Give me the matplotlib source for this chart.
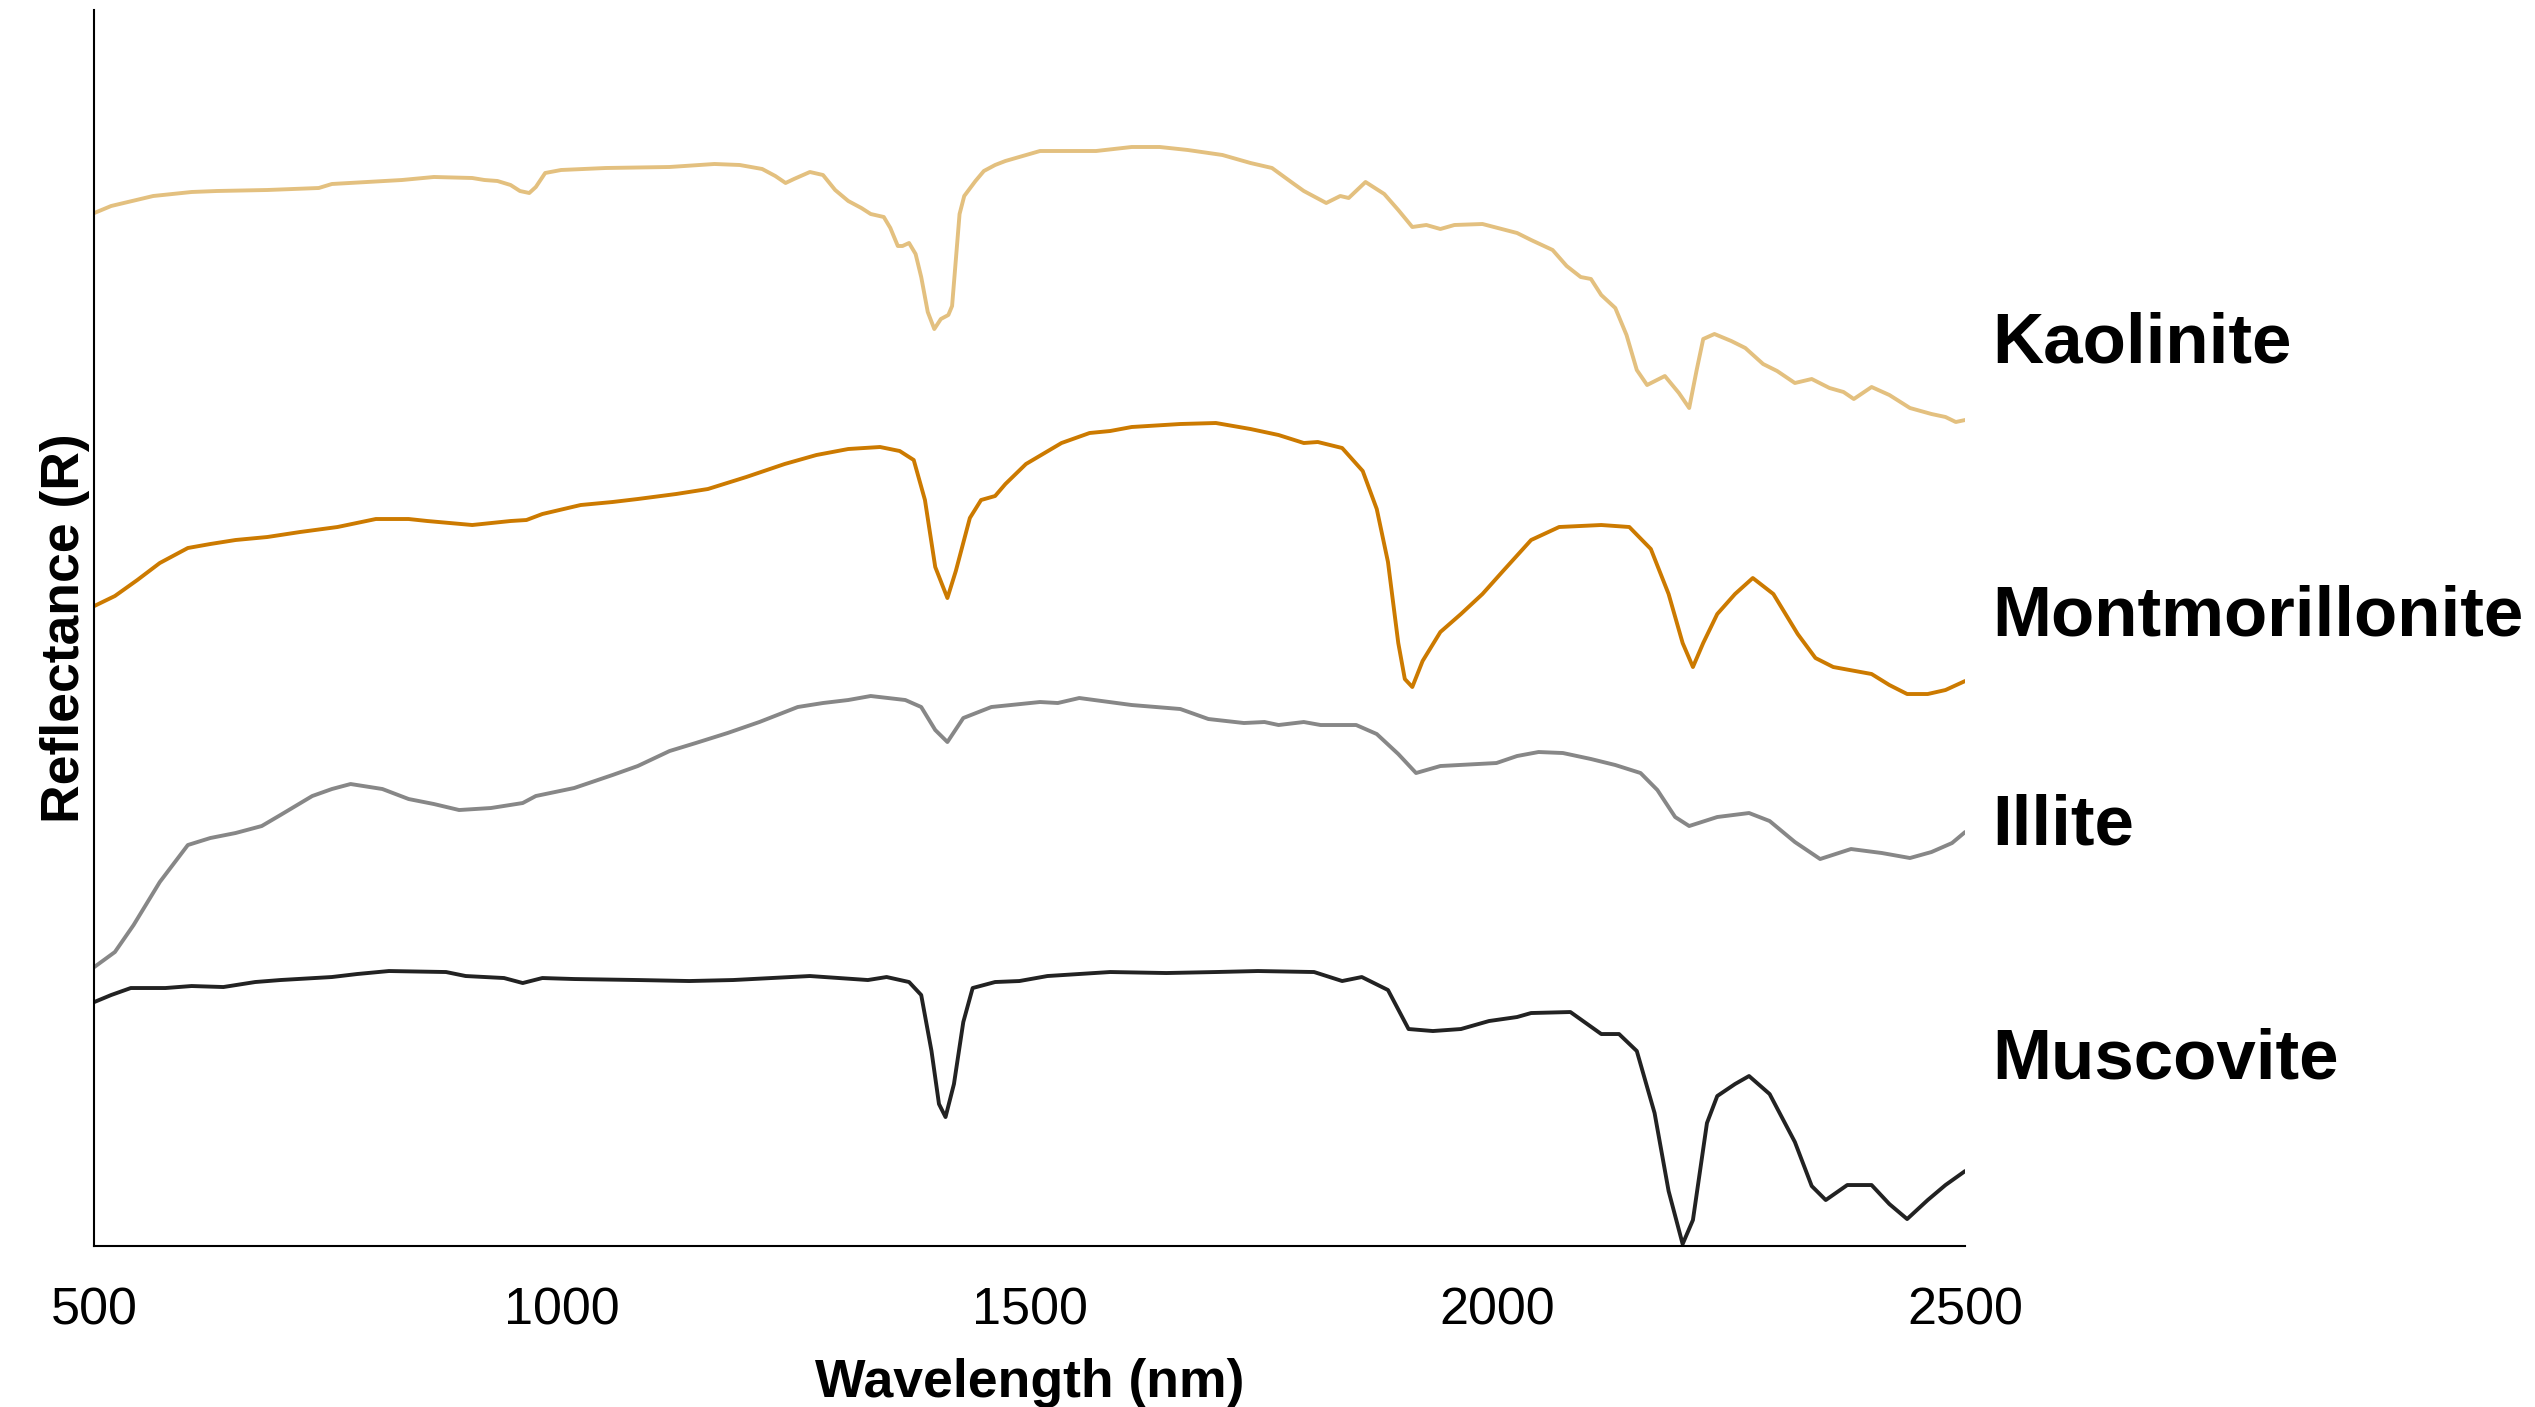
import matplotlib
matplotlib.use("Agg")
import matplotlib.pyplot as plt

plt.rcParams['font.family'] = ['Liberation Sans', 'DejaVu Sans']

# spectra (reflectance, arbitrary offset units)
kaolinite_wl = [500, 518, 563, 604, 631, 685, 740, 754, 829, 863, 904, 917, 931, 945, 955, 965, 972, 982, 999,
                1047, 1115, 1163, 1190, 1214, 1228, 1239, 1248, 1265, 1279, 1292, 1306, 1320, 1330, 1344, 1351,
                1359, 1364, 1371, 1378, 1384, 1391, 1398, 1405, 1413, 1417, 1421, 1425, 1430, 1442, 1451, 1463,
                1474, 1511, 1571, 1609, 1639, 1669, 1706, 1736, 1759, 1781, 1793, 1817, 1832, 1841, 1859, 1879,
                1894, 1909, 1924, 1939, 1954, 1984, 2021, 2036, 2059, 2074, 2089, 2100, 2111, 2126, 2138, 2149,
                2160, 2179, 2194, 2205, 2213, 2220, 2232, 2250, 2265, 2284, 2299, 2318, 2336, 2355, 2370, 2381,
                2400, 2419, 2441, 2464, 2479, 2490, 2500]
kaolinite_r = [103.3, 104.0, 105.0, 105.4, 105.5, 105.6, 105.8, 106.2, 106.6, 106.9, 106.8, 106.6, 106.5, 106.1,
               105.5, 105.3, 105.9, 107.3, 107.6, 107.8, 107.9, 108.2, 108.1, 107.7, 107.0, 106.3, 106.7, 107.4,
               107.1, 105.6, 104.5, 103.8, 103.2, 102.9, 101.8, 100.0, 100.0, 100.3, 99.2, 96.9, 93.4, 91.7,
               92.7, 93.1, 94.0, 98.6, 103.2, 105.0, 106.5, 107.5, 108.1, 108.5, 109.5, 109.5, 109.9, 109.9,
               109.6, 109.1, 108.3, 107.8, 106.3, 105.5, 104.3, 105.0, 104.8, 106.4, 105.2, 103.6, 101.9, 102.1,
               101.7, 102.1, 102.2, 101.3, 100.6, 99.6, 98.0, 96.9, 96.7, 95.1, 93.8, 91.1, 87.6, 86.1, 87.0,
               85.3, 83.8, 87.6, 90.7, 91.2, 90.5, 89.8, 88.2, 87.5, 86.3, 86.7, 85.8, 85.4, 84.7, 85.9, 85.1,
               83.8, 83.2, 82.9, 82.4, 82.6]

montmorillonite_wl = [500, 522, 546, 570, 600, 624, 651, 685, 720, 760, 801, 836, 856, 904, 945, 962, 979, 1020,
                      1054, 1081, 1122, 1156, 1197, 1238, 1272, 1306, 1340, 1361, 1376, 1388, 1399, 1412, 1421,
                      1436, 1448, 1463, 1474, 1496, 1534, 1564, 1586, 1609, 1661, 1699, 1736, 1766, 1793, 1808,
                      1834, 1856, 1871, 1883, 1894, 1901, 1909, 1920, 1939, 1961, 1984, 2006, 2036, 2066, 2111,
                      2141, 2164, 2183, 2198, 2209, 2220, 2235, 2254, 2273, 2295, 2321, 2340, 2359, 2400, 2419,
                      2438, 2460, 2479, 2500]
montmorillonite_r = [64.0, 65.0, 66.6, 68.3, 69.8, 70.2, 70.6, 70.9, 71.4, 71.9, 72.7, 72.7, 72.5, 72.1, 72.5,
                     72.6, 73.2, 74.1, 74.4, 74.7, 75.2, 75.7, 76.9, 78.2, 79.1, 79.7, 79.9, 79.5, 78.6, 74.6,
                     67.9, 64.8, 67.5, 72.8, 74.6, 75.0, 76.2, 78.2, 80.3, 81.3, 81.5, 81.9, 82.2, 82.3, 81.7,
                     81.1, 80.3, 80.4, 79.8, 77.5, 73.7, 68.4, 60.3, 56.7, 55.9, 58.5, 61.4, 63.2, 65.2, 67.5,
                     70.6, 71.9, 72.1, 71.9, 69.7, 65.2, 60.3, 57.9, 60.3, 63.2, 65.2, 66.8, 65.2, 61.2, 58.8,
                     57.9, 57.2, 56.1, 55.2, 55.2, 55.6, 56.5]

illite_wl = [500, 522, 542, 570, 600, 624, 651, 679, 699, 733, 754, 774, 808, 836, 863, 890, 924, 958, 972, 1013,
             1054, 1081, 1115, 1143, 1177, 1211, 1252, 1279, 1306, 1330, 1367, 1384, 1399, 1412, 1429, 1459, 1511,
             1530, 1553, 1609, 1661, 1691, 1729, 1751, 1766, 1793, 1811, 1849, 1871, 1894, 1913, 1939, 1999,
             2021, 2044, 2070, 2100, 2126, 2153, 2171, 2190, 2205, 2235, 2269, 2291, 2318, 2345, 2378, 2411,
             2441, 2464, 2486, 2500]
illite_r = [27.9, 29.4, 32.1, 36.4, 40.1, 40.8, 41.3, 42.0, 43.1, 45.0, 45.7, 46.2, 45.7, 44.7, 44.2, 43.6, 43.8,
            44.3, 45.0, 45.8, 47.1, 48.0, 49.5, 50.3, 51.3, 52.4, 53.9, 54.3, 54.6, 55.0, 54.6, 53.9, 51.6, 50.4,
            52.8, 53.9, 54.4, 54.3, 54.8, 54.1, 53.7, 52.7, 52.3, 52.4, 52.1, 52.4, 52.1, 52.1, 51.2, 49.2, 47.3,
            48.0, 48.3, 49.0, 49.4, 49.3, 48.7, 48.1, 47.3, 45.6, 42.9, 42.0, 42.9, 43.3, 42.5, 40.4, 38.7, 39.7,
            39.3, 38.8, 39.4, 40.3, 41.4]

muscovite_wl = [500, 518, 539, 576, 604, 638, 672, 699, 754, 781, 815, 876, 897, 938, 958, 979, 1013, 1081, 1136,
                1183, 1265, 1327, 1347, 1371, 1384, 1395, 1403, 1410, 1419, 1429, 1439, 1463, 1489, 1519, 1586,
                1646, 1699, 1744, 1804, 1834, 1855, 1883, 1905, 1931, 1961, 1991, 2021, 2036, 2078, 2093, 2111,
                2130, 2149, 2168, 2183, 2198, 2209, 2224, 2235, 2254, 2269, 2291, 2318, 2336, 2351, 2374, 2400,
                2419, 2438, 2460, 2479, 2500]
muscovite_r = [24.4, 25.1, 25.8, 25.8, 26.0, 25.9, 26.4, 26.6, 26.9, 27.2, 27.5, 27.4, 27.0, 26.8, 26.3, 26.8,
               26.7, 26.6, 26.5, 26.6, 27.0, 26.6, 26.9, 26.4, 25.1, 19.5, 14.2, 12.9, 16.2, 22.4, 25.8, 26.4,
               26.5, 27.0, 27.4, 27.3, 27.4, 27.5, 27.4, 26.5, 26.9, 25.6, 21.7, 21.5, 21.7, 22.5, 22.9, 23.3,
               23.4, 22.4, 21.2, 21.2, 19.5, 13.3, 5.5, 0.2, 2.6, 12.3, 15.0, 16.2, 17.0, 15.2, 10.4, 6.0, 4.6,
               6.1, 6.1, 4.2, 2.7, 4.6, 6.1, 7.5]

names = ["Kaolinite", "Montmorillonite", "Illite", "Muscovite"]
colors = ["#E3C07F", "#CC7A00", "#878787", "#222222"]
label_baselines = [0.7427, 0.548, 0.400, 0.2338]

fig = plt.figure(figsize=(25.35, 14.07), dpi=100)
ax = fig.add_axes([0.0372, 0.1144, 0.7380, 0.8785])

series = [(kaolinite_wl, kaolinite_r), (montmorillonite_wl, montmorillonite_r),
          (illite_wl, illite_r), (muscovite_wl, muscovite_r)]
for (wl, r), c in zip(series, colors):
    ax.plot(wl, r, color=c, lw=2.8, solid_joinstyle='round', solid_capstyle='round')

ax.set_xlim(500, 2500)
ax.set_ylim(0, 123.6)
ax.set_xticks([500, 1000, 1500, 2000, 2500])
ax.set_yticks([])
ax.tick_params(axis='x', length=0, pad=29, labelsize=37.5)
for s in ["top", "right"]:
    ax.spines[s].set_visible(False)
for s in ["left", "bottom"]:
    ax.spines[s].set_linewidth(1.5)

ax.set_xlabel("Wavelength (nm)", fontsize=38.5, fontweight='bold', labelpad=16)
ax.set_ylabel("Reflectance (R)", fontsize=38.5, fontweight='bold', labelpad=3)

for name, yb in zip(names, label_baselines):
    fig.text(0.786, yb, name, fontsize=51, fontweight='bold', va='baseline', ha='left')

fig.savefig("out.png", dpi=100)
